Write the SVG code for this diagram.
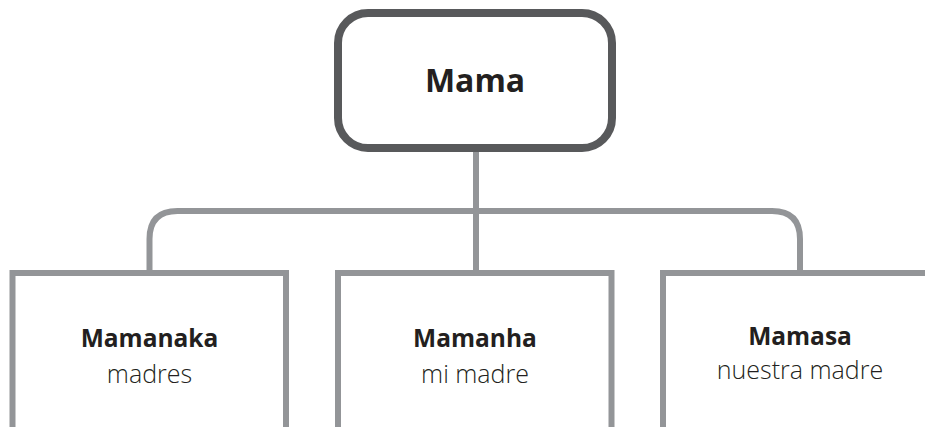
<svg xmlns="http://www.w3.org/2000/svg" width="925" height="427" viewBox="0 0 925 427">
<style>
.root{fill:#fff;stroke:#58595b;stroke-width:8}
.child{fill:#fff;stroke:#939598;stroke-width:6}
.conn{fill:none;stroke:#939598;stroke-width:6}
.t{font-family:"Open Sans","Noto Sans",sans-serif;fill:#231f20;text-anchor:middle}
.b{font-weight:700}
.r{font-weight:300}
</style>
<rect width="925" height="427" fill="#fff"/>
<g id="connectors">
<path class="conn" d="M476 152 V273"/>
<path class="conn" d="M149.5 273 V239 Q149.5 211 177.5 211 H772 Q800 211 800 239 V273"/>
</g>
<g id="mama">
<rect class="root" x="338" y="13" width="274" height="135" rx="30" ry="30"/>
<text class="t b" x="475" y="92" font-size="32">Mama</text>
</g>
<g id="mamanaka">
<rect class="child" x="12.5" y="273" width="273.5" height="170"/>
<text class="t b" x="149.5" y="347" font-size="24.5">Mamanaka</text>
<text class="t r" x="149.5" y="383" font-size="25">madres</text>
</g>
<g id="mamanha">
<rect class="child" x="338" y="273" width="273.5" height="170"/>
<text class="t b" x="475" y="347" font-size="24.5">Mamanha</text>
<text class="t r" x="475" y="383" font-size="25">mi madre</text>
</g>
<g id="mamasa">
<rect class="child" x="663" y="273" width="274" height="170"/>
<text class="t b" x="800" y="345" font-size="24.5">Mamasa</text>
<text class="t r" x="800" y="379" font-size="25">nuestra madre</text>
</g>
</svg>
